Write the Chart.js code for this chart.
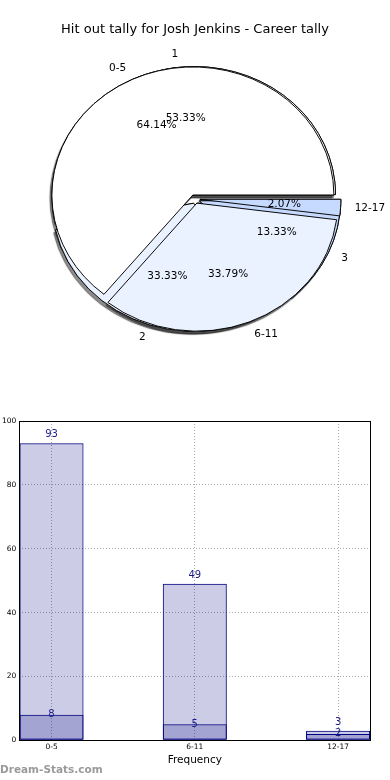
<!DOCTYPE html>
<html>
<head>
<meta charset="utf-8">
<script src="https://cdn.jsdelivr.net/npm/chart.js@4.4.1/dist/chart.umd.min.js"></script>
<style>
  body { margin: 0; background: #fff; width: 390px; height: 780px; position: relative; overflow: hidden; }
  #pieBox { position: absolute; left: 0; top: 0; width: 390px; height: 400px; }
  #barBox { position: absolute; left: 0; top: 390px; width: 390px; height: 390px; }
  #mark { position: absolute; left: 0; top: 763px; font: bold 10.5px "DejaVu Sans", sans-serif; color: #9a9a9a; }
</style>
</head>
<body>
<div id="pieBox"><canvas id="pieChart" width="390" height="400"></canvas></div>
<div id="barBox"><canvas id="barChart" width="390" height="390"></canvas></div>
<div id="mark">Dream-Stats.com</div>
<script>
// hit-out ranges per game
var rangeLabels = ["0-5", "6-11", "12-17"];
var rangeCounts = [93, 49, 3];
// second pie / darker bars
var tallyLabels = ["1", "2", "3"];
var tallyCounts = [8, 5, 2];
var yTicks = [0, 20, 40, 60, 80, 100];

var sliceColors = ["#ffffff", "#ebf2ff", "#c6d9ff"];
var PIE_R = 141;      // horizontal radius
var SQUASH = 0.908;   // pie axes weren't square -> ellipse
var EXPLODE = 4.9;
var FONT = '"DejaVu Sans", sans-serif';

function rev(a) { return a.slice().reverse(); }

// chart.js goes clockwise from the top, the original goes anticlockwise from 3 o'clock
function pieSet(labels, counts) {
  return {
    data: rev(counts),
    sliceLabels: rev(labels),
    backgroundColor: rev(sliceColors.slice(0, counts.length)),
    borderColor: "#000",
    borderWidth: 1,
    borderJoinStyle: "miter",
    offset: 0
  };
}

function drawExploded(ctx, arc) {
  var mid = (arc.startAngle + arc.endAngle) / 2;
  ctx.save();
  ctx.translate(Math.cos(mid) * EXPLODE, Math.sin(mid) * EXPLODE);
  arc.draw(ctx);
  ctx.restore();
}

var pieLook = {
  id: "pieLook",
  afterDatasetsUpdate: function (chart) {
    // both pies full size, overlaid instead of nested rings
    chart.getSortedVisibleDatasetMetas().forEach(function (meta) {
      meta.data.forEach(function (arc) { arc.innerRadius = 0; arc.outerRadius = PIE_R; });
    });
  },
  beforeDatasetsDraw: function (chart) {
    var ctx = chart.ctx, a = chart.chartArea;
    var cx = (a.left + a.right) / 2, cy = (a.top + a.bottom) / 2;
    ctx.save();
    ctx.translate(cx, cy);
    ctx.scale(1, SQUASH);
    ctx.translate(-cx, -cy);
    var metas = chart.getSortedVisibleDatasetMetas();
    for (var m = metas.length - 1; m >= 0; m--) {
      metas[m].data.forEach(function (arc) {
        ctx.save();
        ctx.shadowColor = "rgba(0,0,0,0.45)";
        ctx.shadowOffsetX = -2;
        ctx.shadowOffsetY = 3;
        ctx.shadowBlur = 1;
        drawExploded(ctx, arc);
        ctx.restore();
      });
    }
  },
  beforeDatasetDraw: function (chart, args) {
    args.meta.data.forEach(function (arc) { drawExploded(chart.ctx, arc); });
    return false;
  },
  afterDatasetsDraw: function (chart) {
    var ctx = chart.ctx;
    ctx.restore();
    ctx.save();
    ctx.font = "10.5px " + FONT;
    ctx.fillStyle = "#000";
    ctx.textBaseline = "middle";
    chart.getSortedVisibleDatasetMetas().forEach(function (meta) {
      var ds = chart.data.datasets[meta.index];
      var total = ds.data.reduce(function (s, v) { return s + v; }, 0);
      meta.data.forEach(function (arc, i) {
        var mid = (arc.startAngle + arc.endAngle) / 2;
        var c = Math.cos(mid), s = Math.sin(mid);
        var r1 = 1.1 * PIE_R + EXPLODE, r2 = 0.6 * PIE_R + EXPLODE;
        ctx.textAlign = c >= 0 ? "left" : "right";
        ctx.fillText(ds.sliceLabels[i], arc.x + c * r1, arc.y + SQUASH * s * r1);
        ctx.textAlign = "center";
        ctx.fillText((ds.data[i] / total * 100).toFixed(2) + "%", arc.x + c * r2, arc.y + SQUASH * s * r2);
      });
    });
    ctx.restore();
  }
};

new Chart(document.getElementById("pieChart"), {
  type: "pie",
  data: { datasets: [pieSet(rangeLabels, rangeCounts), pieSet(tallyLabels, tallyCounts)] },
  options: {
    responsive: false,
    animation: false,
    devicePixelRatio: 1,
    rotation: 90,
    radius: PIE_R,
    layout: { padding: { top: 0, bottom: 39.6, left: 0, right: 0 } },
    plugins: {
      legend: { display: false },
      tooltip: { enabled: false },
      title: {
        display: true,
        text: "Hit out tally for Josh Jenkins - Career tally",
        color: "#000",
        font: { family: FONT, size: 13, weight: "normal" },
        padding: { top: 22, bottom: 0 }
      }
    }
  },
  plugins: [pieLook]
});

// bars
var barLift = [8.5, 0.3];
var barExtras = {
  id: "barExtras",
  afterDatasetsDraw: function (chart) {
    var ctx = chart.ctx, a = chart.chartArea;
    ctx.save();
    ctx.font = "10px " + FONT;
    ctx.fillStyle = "#1a1a8c";
    ctx.textAlign = "center";
    ctx.textBaseline = "middle";
    chart.getSortedVisibleDatasetMetas().forEach(function (meta) {
      var ds = chart.data.datasets[meta.index];
      meta.data.forEach(function (bar, i) {
        ctx.fillText(String(ds.data[i].y), bar.x, bar.y - barLift[meta.index]);
      });
    });
    ctx.strokeStyle = "#000";
    ctx.lineWidth = 1;
    ctx.strokeRect(Math.round(a.left) + 0.5, Math.round(a.top) + 0.5,
      Math.round(a.right) - Math.round(a.left), Math.round(a.bottom) - Math.round(a.top));
    ctx.restore();
  }
};

function barSet(counts) {
  return {
    data: counts.map(function (v, i) { return { x: i, y: v }; }),
    backgroundColor: "rgba(0,0,128,0.2)",
    borderColor: "#000080",
    borderWidth: 1,
    borderSkipped: false,
    grouped: false,
    categoryPercentage: 0.447,
    barPercentage: 1
  };
}

new Chart(document.getElementById("barChart"), {
  type: "bar",
  data: { datasets: [barSet(rangeCounts), barSet(tallyCounts)] },
  options: {
    responsive: false,
    animation: false,
    devicePixelRatio: 1,
    layout: { padding: { top: 31, right: 19.7, left: 0, bottom: 0 } },
    plugins: { legend: { display: false }, tooltip: { enabled: false } },
    scales: {
      x: {
        type: "linear",
        offset: false,
        min: -0.225,
        max: 2.225,
        afterBuildTicks: function (s) { s.ticks = rangeLabels.map(function (_, i) { return { value: i }; }); },
        afterFit: function (s) { s.height = 39.7; },
        ticks: {
          callback: function (v) { return rangeLabels[v]; },
          color: "#000",
          font: { family: FONT, size: 7.5 },
          padding: 2,
          maxRotation: 0
        },
        grid: { color: "#a8a8a8", drawTicks: false, offset: false },
        border: { display: false, dash: [1, 2] },
        title: {
          display: true,
          text: "Frequency",
          color: "#000",
          font: { family: FONT, size: 10.5 },
          padding: { top: 0, bottom: 13.7 }
        }
      },
      y: {
        min: 0,
        max: 100,
        afterBuildTicks: function (s) { s.ticks = yTicks.map(function (v) { return { value: v }; }); },
        afterFit: function (s) { s.width = 19.3; },
        ticks: { color: "#000", font: { family: FONT, size: 7.5 }, padding: 3 },
        grid: { color: "#a8a8a8", drawTicks: false },
        border: { display: false, dash: [1, 2] }
      }
    }
  },
  plugins: [barExtras]
});
</script>
</body>
</html>
